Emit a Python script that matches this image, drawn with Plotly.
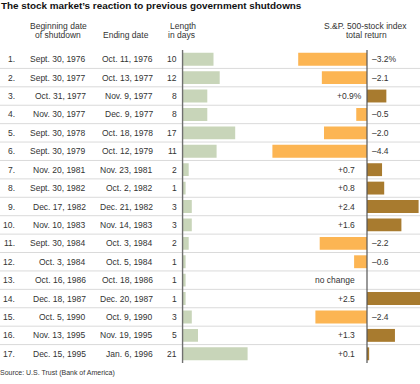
import plotly.graph_objects as go

# ---------------- data ----------------
row_numbers = ["1.", "2.", "3.", "4.", "5.", "6.", "7.", "8.", "9.", "10.",
               "11.", "12.", "13.", "14.", "15.", "16.", "17."]
begin_dates = ["Sept. 30, 1976", "Sept. 30, 1977", "Oct. 31, 1977", "Nov. 30, 1977",
               "Sept. 30, 1978", "Sept. 30, 1979", "Nov. 20, 1981", "Sept. 30, 1982",
               "Dec. 17, 1982", "Nov. 10, 1983", "Sept. 30, 1984", "Oct. 3, 1984",
               "Oct. 16, 1986", "Dec. 18, 1987", "Oct. 5, 1990", "Nov. 13, 1995",
               "Dec. 15, 1995"]
end_dates = ["Oct. 11, 1976", "Oct. 13, 1977", "Nov. 9, 1977", "Dec. 9, 1977",
             "Oct. 18, 1978", "Oct. 12, 1979", "Nov. 23, 1981", "Oct. 2, 1982",
             "Dec. 21, 1982", "Nov. 14, 1983", "Oct. 3, 1984", "Oct. 5, 1984",
             "Oct. 18, 1986", "Dec. 20, 1987", "Oct. 9, 1990", "Nov. 19, 1995",
             "Jan. 6, 1996"]
length_days = [10, 12, 8, 8, 17, 11, 2, 1, 3, 3, 2, 1, 1, 1, 3, 5, 21]
total_return = [-3.2, -2.1, 0.9, -0.5, -2.0, -4.4, 0.7, 0.8, 2.4, 1.6,
                -2.2, -0.6, 0.0, 2.5, -2.4, 1.3, 0.1]
return_labels = ["\u20133.2%", "\u20132.1", "+0.9%", "\u20130.5", "\u20132.0", "\u20134.4",
                 "+0.7", "+0.8", "+2.4", "+1.6", "\u20132.2", "\u20130.6", "no change",
                 "+2.5", "\u20132.4", "+1.3", "+0.1"]

# ---------------- style ----------------
W, H = 420, 384
FONT = "Liberation Sans, Arial, sans-serif"
TXT = "#333333"
GREEN = "#C8D5B9"
ORANGE = "#FCB553"
BROWN = "#A87B2F"
AXIS = "#707070"
GRID = "#DADADA"

TOP_PX, BOT_PX = 50, 363
y_dom = [1 - BOT_PX / H, 1 - TOP_PX / H]
n = len(row_numbers)
rows = list(range(n))

LEN_ZERO, LEN_PX = 182.5, 3.1
RET_ZERO, RET_PX = 367.0, 21.5
SPLIT = 262.0

fig = go.Figure()

fig.add_trace(go.Bar(
    x=length_days, y=rows, orientation="h", width=0.7,
    marker=dict(color=GREEN, line=dict(width=0)),
    xaxis="x", yaxis="y", hoverinfo="skip", cliponaxis=True))

ret_colors = [BROWN if v > 0 else ORANGE for v in total_return]
fig.add_trace(go.Bar(
    x=total_return, y=rows, orientation="h", width=0.7,
    marker=dict(color=ret_colors, line=dict(width=0)),
    xaxis="x2", yaxis="y", hoverinfo="skip", cliponaxis=True))

annotations = []

def ann(text, x, y, xanchor, xref="paper", yref="y", size=8.5, color=TXT,
        bold=False, xshift=0, yanchor="middle"):
    annotations.append(dict(
        text=f"<b>{text}</b>" if bold else text, x=x, y=y, xref=xref, yref=yref,
        xanchor=xanchor, yanchor=yanchor, showarrow=False, xshift=xshift,
        borderpad=0, borderwidth=0,
        font=dict(family=FONT, size=size, color=color)))

for i in rows:
    ann(row_numbers[i], 14.5 / W, i, "right")
    ann(begin_dates[i], 85.5 / W, i, "right")
    ann(end_dates[i], 153 / W, i, "right")
    ann(str(length_days[i]), 176.5 / W, i, "right")
    lab = return_labels[i]
    v = total_return[i]
    if v < 0:
        ann(lab, 0, i, "left", xref="x2", xshift=5)
    else:
        shift = -5 if lab.endswith("%") else -12
        ann(lab, 0, i, "right", xref="x2", xshift=shift)

# headers
def py(px):
    return 1 - px / H

ann("Beginning date", 58 / W, py(26.5), "center", yref="paper")
ann("of shutdown", 58 / W, py(35.5), "center", yref="paper")
ann("Ending date", 126 / W, py(35.5), "center", yref="paper")
ann("Length", 169.5 / W, py(26.5), "left", yref="paper")
ann("in days", 168 / W, py(35.5), "left", yref="paper")
ann("S.&P. 500-stock index", 365.5 / W, py(26.5), "center", yref="paper")
ann("total return", 366.5 / W, py(35.5), "center", yref="paper")

ann("The stock market\u2019s reaction to previous government shutdowns", 1 / W, py(5.8),
    "left", yref="paper", size=9.9, color="#111111", bold=True)
ann("Source: U.S. Trust (Bank of America)", 0, py(372.5), "left", yref="paper",
    size=7, color=TXT)

shapes = []
for i in range(n - 1):
    shapes.append(dict(type="line", xref="paper", yref="y", x0=0, x1=1,
                       y0=i + 0.5, y1=i + 0.5, line=dict(color=GRID, width=1),
                       layer="below"))
shapes.append(dict(type="line", xref="x", yref="y domain", x0=0, x1=0, y0=0, y1=1,
                   line=dict(color=AXIS, width=1.5), layer="above"))
shapes.append(dict(type="line", xref="x2", yref="y domain", x0=0, x1=0, y0=0, y1=1,
                   line=dict(color="#555555", width=1.2), layer="above"))

fig.update_layout(
    width=W, height=H, margin=dict(l=0, r=0, t=0, b=0),
    paper_bgcolor="white", plot_bgcolor="rgba(0,0,0,0)",
    showlegend=False, hovermode=False, barmode="overlay",
    annotations=annotations, shapes=shapes,
    xaxis=dict(domain=[(LEN_ZERO - 1) / W, SPLIT / W],
               range=[-1 / LEN_PX, (SPLIT - LEN_ZERO) / LEN_PX],
               visible=False, fixedrange=True),
    xaxis2=dict(domain=[SPLIT / W, 1], anchor="y",
                range=[-(RET_ZERO - SPLIT) / RET_PX, (W - RET_ZERO) / RET_PX],
                visible=False, fixedrange=True),
    yaxis=dict(domain=y_dom, range=[n - 0.5, -0.5], visible=False, fixedrange=True),
)

fig.write_html("out.html", config={"displayModeBar": False},
               post_script="document.body.style.margin='0';document.body.style.overflow='hidden';")
